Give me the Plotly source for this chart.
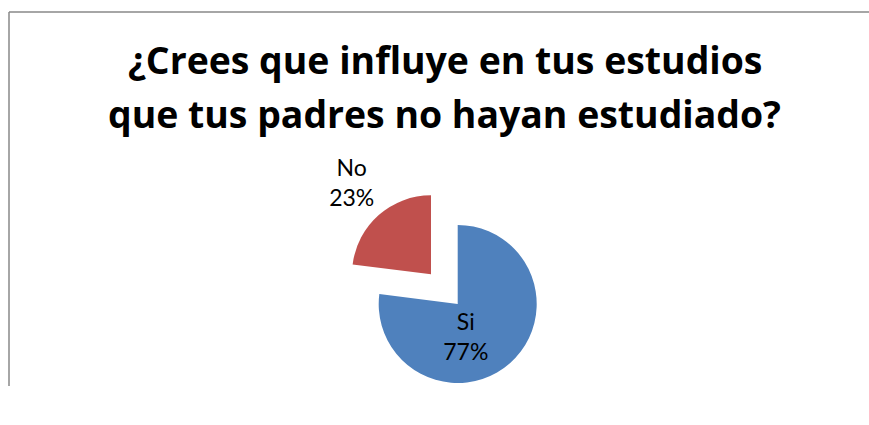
import plotly.graph_objects as go

labels = ["Si", "No"]
values = [77, 23]
colors = ["#4F81BD", "#C0504D"]
title_lines = ["¿Crees que influye en tus estudios", "que tus padres no hayan estudiado?"]

W, H = 869, 386          # drawing area that the page actually gets
R = 79                   # pie radius in px
slice_centers = [(457.7, 304.0), (431.0, 274.3)]   # Si slice, exploded No slice
label_centers = [(439.7, 306.0), (441.0, 257.3)]   # geometry used to place each slice's label
text_pos = ["inside", "outside"]
clear = "rgba(0,0,0,0)"


def domain_at(cx, cy):
    return dict(x=[(cx - R) / W, (cx + R) / W], y=[(H - cy - R) / H, (H - cy + R) / H])


fig = go.Figure()
n = len(labels)
# the slices themselves (each slice drawn from the shared data, others transparent)
for i, (cx, cy) in enumerate(slice_centers):
    fig.add_trace(go.Pie(
        labels=labels, values=values, sort=False, direction="clockwise", rotation=0,
        marker=dict(colors=[colors[j] if j == i else clear for j in range(n)], line=dict(width=0)),
        textinfo="none", showlegend=False, hoverinfo="skip",
        domain=domain_at(cx, cy),
    ))
# the data labels
for i, (cx, cy) in enumerate(label_centers):
    fig.add_trace(go.Pie(
        labels=labels, values=values, sort=False, direction="clockwise", rotation=0,
        marker=dict(colors=[clear] * n, line=dict(width=0)),
        texttemplate=["%{label}<br>%{percent:.0%}" if j == i else "" for j in range(n)],
        textposition=[text_pos[i] if j == i else "none" for j in range(n)],
        insidetextorientation="horizontal",
        textfont=dict(family="Lato", size=23, color="black"),
        showlegend=False, hoverinfo="skip",
        domain=domain_at(cx, cy),
    ))

title_shifts = [-32, -86]
fig.update_layout(
    width=W, height=H,
    margin=dict(l=0, r=0, t=0, b=0),
    paper_bgcolor="white",
    annotations=[dict(
        text="<b>" + line + "</b>",
        xref="paper", yref="paper",
        x=444.5 / W, xanchor="center",
        y=1, yanchor="top", yshift=shift,
        showarrow=False,
        font=dict(family="Open Sans", size=37.4, color="black"),
    ) for line, shift in zip(title_lines, title_shifts)],
    shapes=[
        dict(type="line", xref="paper", yref="paper",
             ysizemode="pixel", yanchor=1,
             x0=9 / W, x1=1.2, y0=-12, y1=-12,
             line=dict(color="#898989", width=1.5)),
        dict(type="line", xref="paper", yref="paper",
             xsizemode="pixel", xanchor=0, ysizemode="pixel", yanchor=1,
             x0=9, x1=9, y0=-12, y1=-1000,
             line=dict(color="#898989", width=1.5)),
    ],
)

post = (
    "document.documentElement.style.margin='0';"
    "document.body.style.margin='0';"
    "document.body.style.overflow='hidden';"
    "var gd=document.getElementById('{plot_id}');"
    "Plotly.relayout(gd,{width:%d,height:%d});" % (W, H)
)

fig.write_html("out.html", post_script=post, config={"displayModeBar": False})
